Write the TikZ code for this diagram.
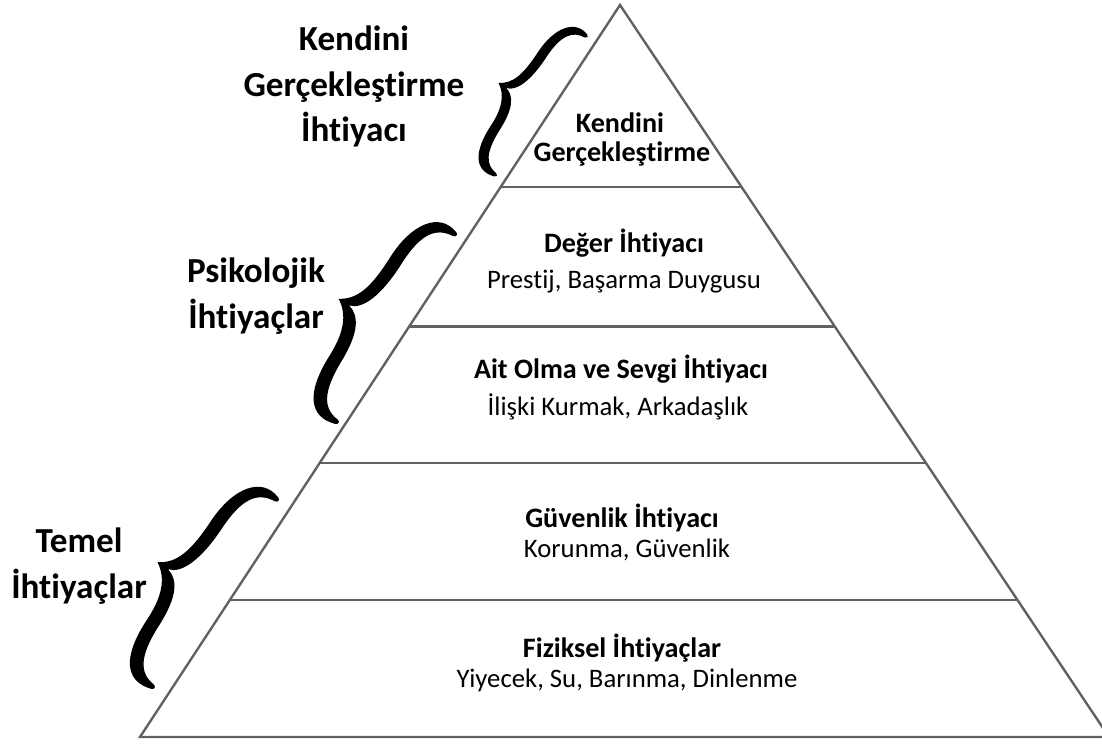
\documentclass[tikz,border=0pt]{standalone}
\usepackage{fontspec}
\setmainfont{Carlito}[Ligatures=CommonOff, Contextuals=AlternateOff, RawFeature={-liga;-clig;-dlig}]
\usetikzlibrary{calc}

\begin{document}
\begin{tikzpicture}[
  x=0.025cm, y=0.025cm,
  tier/.style={draw=black!62, line width=1.7pt},
  title/.style={font=\fontsize{20}{24}\selectfont\bfseries, inner sep=0pt, anchor=base},
  sub/.style={font=\fontsize{19}{23}\selectfont, inner sep=0pt, anchor=base},
  side/.style={font=\fontsize{25}{32.5}\selectfont\bfseries, align=center, inner sep=0pt, anchor=base},
  ibrace/.pic={
    \fill (0.03,1.0) .. controls (-0.18,1.07) and (-0.34,0.86) .. (-0.34,0.5)
      .. controls (-0.34,0.18) and (-0.39,0.03) .. (-0.53,-0.05)
      .. controls (-0.39,-0.13) and (-0.33,-0.28) .. (-0.33,-0.52)
      .. controls (-0.33,-0.9) and (-0.2,-1.07) .. (0.03,-1.0)
      .. controls (0.06,-0.99) and (0.06,-0.96) .. (0.03,-0.955)
      .. controls (-0.13,-0.94) and (-0.21,-0.82) .. (-0.215,-0.5)
      .. controls (-0.22,-0.2) and (-0.3,-0.08) .. (-0.42,-0.05)
      .. controls (-0.3,-0.02) and (-0.225,0.18) .. (-0.225,0.5)
      .. controls (-0.225,0.82) and (-0.14,0.94) .. (0.03,0.955)
      .. controls (0.06,0.96) and (0.06,0.995) .. (0.03,1.0) -- cycle;
  }
]
\useasboundingbox (0,0) rectangle (1102,746);
\coordinate (apex) at (620,741);
\coordinate (bl) at (140,9);
\coordinate (br) at (1109,9);
\draw[tier, line join=miter] (bl) -- (apex) -- (br) -- cycle;
\foreach \t in {0.249,0.439,0.626,0.813}
  \draw[tier] ($(apex)!\t!(bl)$) -- ($(apex)!\t!(br)$);

\node[title] (self1) at (620,613) {Kendini};
\node[title] (self2) at (622,584) {Gerçekleştirme};
\node[title] (esteem) at (624,494) {Değer İhtiyacı};
\node[sub] (esteemsub) at (624,458) {Prestij, Başarma Duygusu};
\node[title] (belong) at (621,368) {Ait Olma ve Sevgi İhtiyacı};
\node[sub] (belongsub) at (618,331) {İlişki Kurmak, Arkadaşlık};
\node[title] (safety) at (622,219) {Güvenlik İhtiyacı};
\node[sub] (safetysub) at (627,189) {Korunma, Güvenlik};
\node[title] (physio) at (622,89) {Fiziksel İhtiyaçlar};
\node[sub] (physiosub) at (627,59) {Yiyecek, Su, Barınma, Dinlenme};

\node[side] (selflabel) at (354,604) {Kendini\\Gerçekleştirme\\İhtiyacı};
\node[side] (psylabel) at (256,418) {Psikolojik\\İhtiyaçlar};
\node[side] (basiclabel) at (79,148) {Temel\\İhtiyaçlar};

\pic[rotate=-33.2, scale=84.9] at (538.5,642) {ibrace};
\pic[rotate=-32.2, scale=113.5] at (392.5,420) {ibrace};
\pic[rotate=-33.5, scale=115] at (211.5,155) {ibrace};
\end{tikzpicture}
\end{document}
